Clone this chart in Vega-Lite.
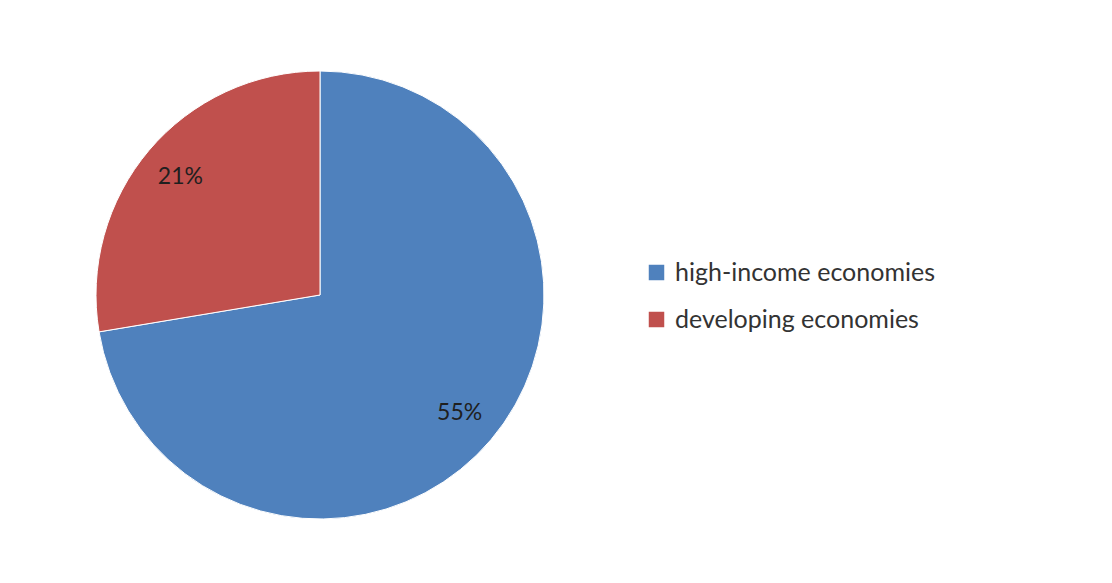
{
  "$schema": "https://vega.github.io/schema/vega-lite/v6.json",
  "autosize": {"type": "fit", "contains": "padding"},
  "width": 1112,
  "height": 583,
  "padding": {"left": 94, "top": 69, "right": 566, "bottom": 62},
  "background": "white",
  "config": {"view": {"stroke": null}, "font": "Lato"},
  "data": {
    "values": [
      {"category": "high-income economies", "value": 55, "label": "55%", "order": 1},
      {"category": "developing economies", "value": 21, "label": "21%", "order": 2}
    ]
  },
  "encoding": {
    "theta": {"field": "value", "type": "quantitative", "stack": true},
    "order": {"field": "order", "type": "quantitative"}
  },
  "layer": [
    {
      "mark": {"type": "arc", "stroke": "white", "strokeWidth": 1},
      "encoding": {
        "color": {
          "field": "category",
          "type": "nominal",
          "scale": {"domain": ["high-income economies", "developing economies"], "range": ["#4F81BD", "#C0504D"]},
          "legend": {
            "title": null,
            "orient": "none",
            "legendX": 550,
            "legendY": 189,
            "symbolType": "square",
            "symbolSize": 240,
            "symbolStrokeWidth": 0,
            "labelFont": "Lato",
            "labelFontSize": 25,
            "labelColor": "#333333",
            "labelOffset": 6,
            "rowPadding": 21,
            "labelLimit": 400
          }
        }
      }
    },
    {
      "mark": {"type": "text", "radius": 183, "font": "Lato", "fontSize": 23, "color": "#1f1f1f"},
      "encoding": {"text": {"field": "label"}}
    }
  ]
}
